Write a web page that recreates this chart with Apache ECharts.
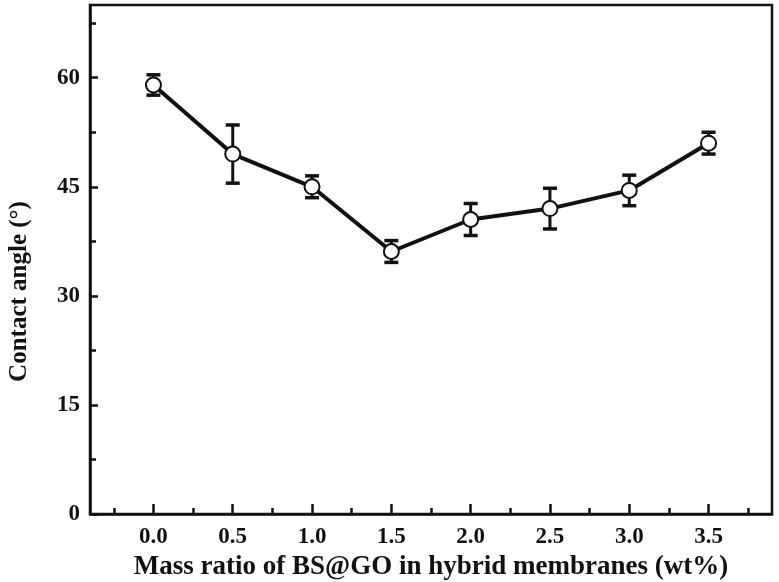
<!DOCTYPE html>
<html><head><meta charset="utf-8">
<script src="https://cdn.jsdelivr.net/npm/echarts@6/dist/echarts.min.js"></script>
<style>html,body{margin:0;padding:0;background:#fff}#c{width:779px;height:582px}</style>
</head><body><div id="c"></div>
<script>
var xValues = [0.0, 0.5, 1.0, 1.5, 2.0, 2.5, 3.0, 3.5];
var angleMeans = [59.0, 49.5, 45.0, 36.1, 40.5, 42.0, 44.5, 51.0];
var angleErrors = [1.4, 4.0, 1.5, 1.5, 2.2, 2.8, 2.1, 1.5];
var xMajorTicks = [0, 0.5, 1.0, 1.5, 2.0, 2.5, 3.0, 3.5];
var xMinorTicks = [-0.25, 0.25, 0.75, 1.25, 1.75, 2.25, 2.75, 3.25, 3.75];
var yMajorTicks = [0, 15, 30, 45, 60];
var yMinorTicks = [7.5, 22.5, 37.5, 52.5, 67.5];
var xTitle = 'Mass ratio of BS@GO in hybrid membranes (wt%)';
var yTitle = 'Contact angle (°)';

var font = '"Liberation Serif", "Times New Roman", serif';
var lineData = xValues.map(function (x, i) { return [x, angleMeans[i]]; });
var errData = xValues.map(function (x, i) { return [x, angleMeans[i] - angleErrors[i], angleMeans[i] + angleErrors[i]]; });

var chart = echarts.init(document.getElementById('c'));
chart.setOption({
  animation: false,
  backgroundColor: '#fff',
  grid: { left: 90, right: 7, top: 5, bottom: 68, containLabel: false, outerBoundsMode: 'none',
    show: true, borderColor: '#111', borderWidth: 2.5, backgroundColor: 'transparent' },
  xAxis: [{
    type: 'value', min: -0.4, max: 3.9,
    axisLine: { show: true, onZero: false, lineStyle: { color: '#111', width: 2.5 } },
    axisTick: { show: true, inside: true, length: 10, lineStyle: { color: '#111', width: 2.5 }, customValues: xMajorTicks },
    axisLabel: { show: true, customValues: xMajorTicks, margin: 12, color: '#111', fontFamily: font, fontWeight: 'bold', fontSize: 23,
      formatter: function (v) { return v.toFixed(1); } },
    splitLine: { show: false },
    name: xTitle, nameLocation: 'middle', nameGap: 36,
    nameTextStyle: { color: '#111', fontFamily: font, fontWeight: 'bold', fontSize: 27 }
  }, {
    type: 'value', min: -0.4, max: 3.9, position: 'bottom',
    axisLine: { show: false, onZero: false },
    axisTick: { show: true, inside: true, length: 6, lineStyle: { color: '#111', width: 2.5 }, customValues: xMinorTicks },
    axisLabel: { show: false }, splitLine: { show: false }
  }],
  yAxis: [{
    type: 'value', min: 0, max: 70,
    axisLine: { show: true, onZero: false, lineStyle: { color: '#111', width: 2.5 } },
    axisTick: { show: true, inside: true, length: 8, lineStyle: { color: '#111', width: 2.5 }, customValues: yMajorTicks },
    axisLabel: { show: true, customValues: yMajorTicks, margin: 10, color: '#111', fontFamily: font, fontWeight: 'bold', fontSize: 23 },
    splitLine: { show: false },
    name: yTitle, nameLocation: 'middle', nameGap: 58, nameRotate: 90,
    nameTextStyle: { color: '#111', fontFamily: font, fontWeight: 'bold', fontSize: 25, padding: [0, 64, 0, 0] }
  }, {
    type: 'value', min: 0, max: 70, position: 'left',
    axisLine: { show: false, onZero: false },
    axisTick: { show: true, inside: true, length: 6, lineStyle: { color: '#111', width: 2.5 }, customValues: yMinorTicks },
    axisLabel: { show: false }, splitLine: { show: false }
  }],
  series: [{
    type: 'custom', xAxisIndex: 0, yAxisIndex: 0, z: 3,
    data: errData,
    renderItem: function (params, api) {
      var x = api.value(0);
      var lo = api.coord([x, api.value(1)]);
      var hi = api.coord([x, api.value(2)]);
      var hw = 7;
      return { type: 'group', children: [
        { type: 'line', shape: { x1: lo[0], y1: lo[1], x2: hi[0], y2: hi[1] }, style: { stroke: '#111', lineWidth: 3 } },
        { type: 'line', shape: { x1: lo[0] - hw, y1: lo[1], x2: lo[0] + hw, y2: lo[1] }, style: { stroke: '#111', lineWidth: 3.5 } },
        { type: 'line', shape: { x1: hi[0] - hw, y1: hi[1], x2: hi[0] + hw, y2: hi[1] }, style: { stroke: '#111', lineWidth: 3.5 } }
      ] };
    }
  }, {
    type: 'line', xAxisIndex: 0, yAxisIndex: 0, z: 4,
    data: lineData,
    lineStyle: { color: '#111', width: 4 },
    symbol: 'circle', symbolSize: 15,
    itemStyle: { color: '#fff', borderColor: '#111', borderWidth: 2 }
  }]
});
</script></body></html>
